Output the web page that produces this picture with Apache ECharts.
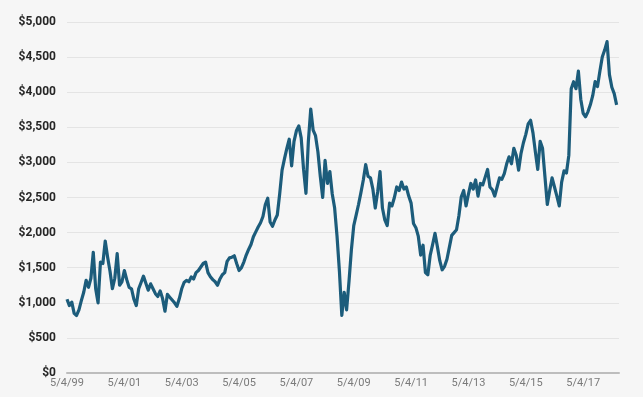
<!DOCTYPE html>
<html>
<head>
<meta charset="utf-8">
<script src="https://cdn.jsdelivr.net/npm/echarts@6/dist/echarts.min.js"></script>
<style>
html,body{margin:0;padding:0;background:#f6f6f6;}
#chart{width:643px;height:397px;}
</style>
</head>
<body>
<div id="chart"></div>
<script>
// Monthly values starting 5/4/99 (one per month, on the 4th)
var startYear = 1999, startMonth = 5;
var prices = [
1050,960,1010,850,820,900,1030,1150,1320,1220,
1350,1720,1200,1000,1580,1560,1880,1650,1450,1200,
1350,1700,1250,1300,1460,1330,1220,1200,1050,960,
1200,1290,1380,1280,1180,1270,1200,1130,1090,1170,
1060,880,1120,1080,1040,1000,950,1060,1200,1290,
1320,1300,1370,1340,1430,1460,1510,1560,1580,1430,
1370,1330,1300,1250,1340,1400,1430,1590,1640,1650,
1670,1560,1460,1500,1580,1680,1760,1830,1940,2010,
2080,2140,2230,2400,2490,2150,2090,2180,2250,2550,
2890,3050,3200,3330,2950,3300,3450,3520,3350,2900,
2560,3300,3760,3460,3380,3150,2800,2500,3030,2700,
2870,2550,2350,1950,1450,820,1150,900,1300,1750,
2100,2250,2400,2570,2750,2970,2800,2780,2620,2350,
2580,2870,2350,2180,2100,2420,2380,2500,2650,2600,
2720,2620,2650,2520,2420,2130,2070,1950,1680,1820,
1430,1400,1680,1830,1990,1800,1600,1470,1520,1620,
1790,1960,2000,2040,2240,2510,2600,2380,2550,2700,
2620,2750,2520,2700,2680,2790,2900,2650,2610,2520,
2650,2780,2760,2840,2980,3080,2980,3200,3100,2890,
3130,3280,3400,3550,3600,3420,3150,2900,3300,3200,
2800,2400,2600,2780,2650,2520,2380,2720,2880,2850,
3100,4050,4150,4050,4300,3900,3700,3650,3720,3820,
3950,4150,4080,4300,4500,4600,4720,4250,4070,3980,
3820
];
var tickLabels = ['5/4/99','5/4/01','5/4/03','5/4/05','5/4/07','5/4/09','5/4/11','5/4/13','5/4/15','5/4/17'];
var yMin = 0, yMax = 5000, yStep = 500;

var categories = [];
for (var k = 0; k < prices.length + 1; k++) {
  var m = startMonth - 1 + k;
  var yy = startYear + Math.floor(m / 12);
  var mm = (m % 12) + 1;
  categories.push(mm + '/4/' + String(yy % 100).padStart(2, '0'));
}

var chart = echarts.init(document.getElementById('chart'));
chart.setOption({
  backgroundColor: '#f6f6f6',
  animation: false,
  grid: {left: 67, right: 24, top: 22, bottom: 24, containLabel: false},
  xAxis: {
    type: 'category',
    data: categories,
    boundaryGap: false,
    axisLine: {show: true, lineStyle: {color: '#bdbdbd', width: 2}},
    axisTick: {show: false},
    splitLine: {show: false},
    axisLabel: {
      interval: 0,
      margin: 5,
      color: '#7a7a7a',
      fontFamily: 'Roboto',
      fontSize: 11,
      formatter: function (v) { return tickLabels.indexOf(v) >= 0 ? v : ''; }
    }
  },
  yAxis: {
    type: 'value',
    min: yMin, max: yMax, interval: yStep,
    axisLine: {show: false},
    axisTick: {show: false},
    splitLine: {lineStyle: {color: '#e4e4e4', width: 1}},
    axisLabel: {
      margin: 11,
      color: '#262626',
      fontFamily: 'Roboto',
      fontWeight: 'bold',
      fontSize: 12,
      formatter: function (v) { return '$' + String(v).replace(/\B(?=(\d{3})+(?!\d))/g, ','); }
    }
  },
  series: [{
    type: 'line',
    data: prices,
    symbol: 'none',
    smooth: false,
    lineStyle: {color: '#1c5c7b', width: 3.2, join: 'round'},
    z: 3
  }]
});
</script>
</body>
</html>
